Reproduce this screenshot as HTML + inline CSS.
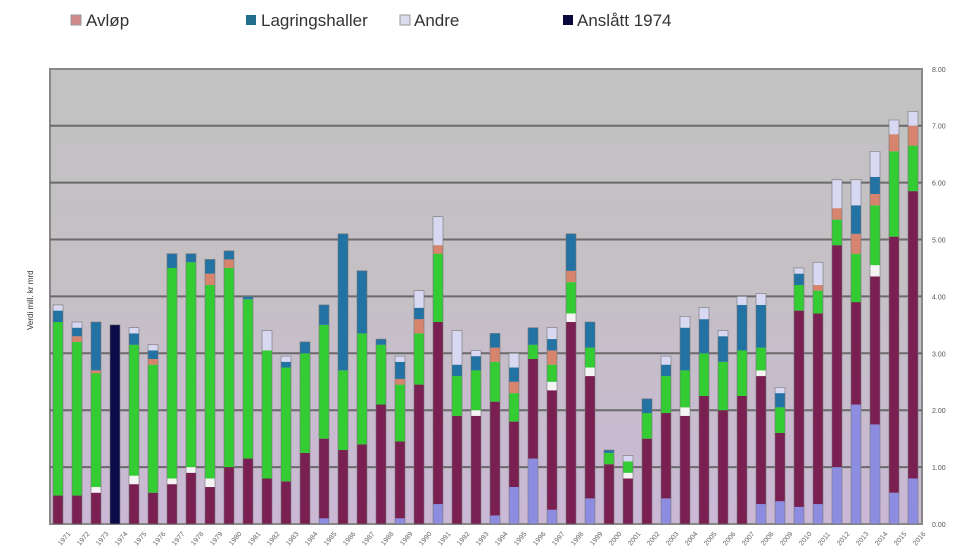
<!DOCTYPE html>
<html><head><meta charset="utf-8"><style>
html,body{margin:0;padding:0;background:#fff;width:960px;height:548px;overflow:hidden}
svg{display:block;font-family:"Liberation Sans",Arial,sans-serif}
</style></head><body>
<svg id="s" width="960" height="548" viewBox="0 0 960 548">
<defs>
<linearGradient id="bg" x1="0" y1="0" x2="0" y2="1">
<stop offset="0" stop-color="#c2c2c2"/><stop offset="0.45" stop-color="#c4c0c4"/><stop offset="1" stop-color="#cab8d6"/>
</linearGradient>
</defs>
<rect x="0" y="0" width="960" height="548" fill="#fff"/>
<g font-size="17" fill="#333">
<text x="92" y="-4">Driftsbygninger</text>
<rect x="71" y="15" width="10" height="10" fill="#d08a8a" stroke="#999"/><text x="86" y="26">Avløp</text>
<rect x="246" y="15" width="10" height="10" fill="#206e8c"/><text x="261" y="26">Lagringshaller</text>
<rect x="400" y="15" width="10" height="10" fill="#dcdcf0" stroke="#999"/><text x="414" y="26">Andre</text>
<rect x="563" y="15" width="10" height="10" fill="#0a0a3a"/><text x="577" y="26">Anslått 1974</text>
</g>
<rect x="50" y="69" width="872" height="455" fill="url(#bg)" stroke="#888" stroke-width="2"/>
<g id="grid" stroke="#6a6a6a" stroke-width="2"></g>
<g id="bars"></g>
<g id="yl" font-size="7" fill="#555"></g>
<g id="xl" font-size="7" fill="#666"></g>
<text transform="translate(33,330) rotate(-90)" font-size="8" fill="#333">Verdi mill. kr mrd</text>
</svg>
<script>
var ns="http://www.w3.org/2000/svg";
function el(t,a,p){var e=document.createElementNS(ns,t);for(var k in a)e.setAttribute(k,a[k]);p.appendChild(e);return e;}
var Y=function(v){return 524-v*56.9;};
var g=document.getElementById('grid'),yl=document.getElementById('yl'),xl=document.getElementById('xl'),b=document.getElementById('bars');
for(var i=1;i<8;i++)el('line',{x1:50,x2:922,y1:Y(i),y2:Y(i)},g);
for(var i=0;i<=8;i++){var t=el('text',{x:932,y:Y(i)+3},yl);t.textContent=i+".00";}
var C={L:"#8c8ce0",M:"#7a1f52",W:"#f4f4f4",G:"#33cc33",S:"#d6846e",B:"#2272a4",A:"#d8d8f2",N:"#0c0c48"};
var D=[
"M.5 G3.55 B3.75 A3.85","M.5 G3.2 S3.3 B3.45 A3.55","M.55 W.65 G2.65 S2.7 B3.55","N3.5",
"M.7 W.85 G3.15 B3.35 A3.45","M.55 G2.8 S2.9 B3.05 A3.15","M.7 W.8 G4.5 B4.75","M.9 W1 G4.6 B4.75",
"M.65 W.8 G4.2 S4.4 B4.65","M1 G4.5 S4.65 B4.8","M1.15 G3.95 B4","M.8 G3.05 A3.4",
"M.75 G2.75 B2.85 A2.95","M1.25 G3 B3.2","L.1 M1.5 G3.5 B3.85","M1.3 G2.7 B5.1",
"M1.4 G3.35 B4.45","M2.1 G3.15 B3.25","L.1 M1.45 G2.45 S2.55 B2.85 A2.95","M2.45 G3.35 S3.6 B3.8 A4.1",
"L.35 M3.55 G4.75 S4.9 A5.4","M1.9 G2.6 B2.8 A3.4","M1.9 W2 G2.7 B2.95 A3.05","L.15 M2.15 G2.85 S3.1 B3.35",
"L.65 M1.8 G2.3 S2.5 B2.75 A3","L1.15 M2.9 G3.15 B3.45","L.25 M2.35 W2.5 G2.8 S3.05 B3.25 A3.45","M3.55 W3.7 G4.25 S4.45 B5.1",
"L.45 M2.6 W2.75 G3.1 B3.55","M1.05 G1.25 B1.3","M.8 W.9 G1.1 A1.2","M1.5 G1.95 B2.2",
"L.45 M1.95 G2.6 B2.8 A2.95","M1.9 W2.05 G2.7 B3.45 A3.65","M2.25 G3 B3.6 A3.8","M2 G2.85 B3.3 A3.4",
"M2.25 G3.05 B3.85 A4","L.35 M2.6 W2.7 G3.1 B3.85 A4.05","L.4 M1.6 G2.05 B2.3 A2.4","L.3 M3.75 G4.2 B4.4 A4.5",
"L.35 M3.7 G4.1 S4.2 A4.6","L1 M4.9 G5.35 S5.55 A6.05","L2.1 M3.9 G4.75 S5.1 B5.6 A6.05","L1.75 M4.35 W4.55 G5.6 S5.8 B6.1 A6.55",
"L.55 M5.05 G6.55 S6.85 A7.1","L.8 M5.85 G6.65 S7 A7.25"];
D.forEach(function(s,i){var cx=58+i*19,prev=0;
s.split(" ").forEach(function(p){var c=p[0],v=parseFloat(p.slice(1));
el('rect',{x:cx-5,y:Y(v),width:10,height:Y(prev)-Y(v),fill:C[c]},b);prev=v;});
el('rect',{x:cx-5,y:Y(prev),width:10,height:Y(0)-Y(prev),fill:"none",stroke:"#777","stroke-width":0.6},b);
var t=el('text',{transform:"translate("+(cx+3)+",546) rotate(-50)"},xl);t.textContent=(1971+i);
});
</script>
</body></html>
